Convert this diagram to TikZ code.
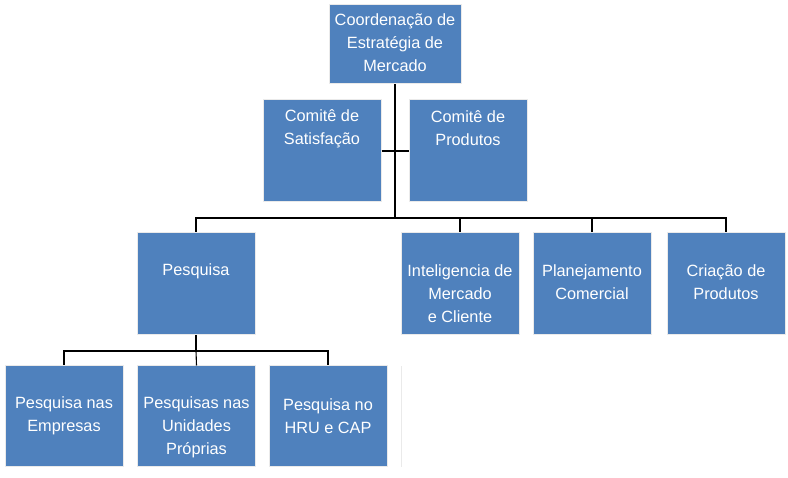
\documentclass[tikz,border=0pt]{standalone}
\usepackage{fontspec}
\setmainfont{Liberation Sans}
\definecolor{boxblue}{HTML}{4F81BD}
\definecolor{boxedge}{HTML}{EAEAEA}
\begin{document}
\begin{tikzpicture}[x=1pt,y=-1pt,
  box/.style={rectangle, fill=boxblue, draw=boxedge, line width=1pt, inner sep=0pt, minimum width=118pt, minimum height=102pt},
  lbl/.style={text=white, align=center, font=\fontsize{16.3}{23}\selectfont, inner sep=0pt},
  conn/.style={draw=black, line width=1.1pt}]
\useasboundingbox (0,0) rectangle (788,478);
% boxes
\node[box, minimum width=132pt, minimum height=79pt] (top) at (395,44.5) {};
\node[box] (sat) at (322,151) {};
\node[box] (prod) at (468,151) {};
\node[box] (pesq) at (196,284) {};
\node[box] (intel) at (460,284) {};
\node[box] (plan) at (592,284) {};
\node[box] (cria) at (726,284) {};
\node[box, minimum height=101pt] (b1) at (64,416.5) {};
\node[box, minimum height=101pt] (b2) at (196.5,416.5) {};
\node[box, minimum height=101pt] (b3) at (328,416.5) {};
% labels
\node[lbl] (ltop) at (395,43) {Coordenação de\\Estratégia de\\Mercado};
\node[lbl] (lsat) at (322,128.5) {Comitê de\\Satisfação};
\node[lbl] (lprod) at (468,128.5) {Comitê de\\Produtos};
\node[lbl] (lpesq) at (196,271) {Pesquisa};
\node[lbl] (lintel) at (460,294) {Inteligencia de\\Mercado\\e Cliente};
\node[lbl] (lplan) at (592,282.5) {Planejamento\\Comercial};
\node[lbl] (lcria) at (726,282.5) {Criação de\\Produtos};
\node[lbl] (lb1) at (64,416) {Pesquisa nas\\Empresas};
\node[lbl] (lb2) at (196.5,427) {Pesquisas nas\\Unidades\\Próprias};
\node[lbl] (lb3) at (328,416) {Pesquisa no\\HRU e CAP};
% connectors
\coordinate (j1) at (395,218);
\coordinate (j2) at (196,351);
\draw[conn] (top.south) -- (j1);
\draw[conn] (sat.east) -- (prod.west);
\draw[conn] (j1) -| (pesq.north);
\draw[conn] (j1) -| (intel.north);
\draw[conn] (j1) -| (plan.north);
\draw[conn] (j1) -| (cria.north);
\draw[conn] (pesq.south) -- (j2);
\draw[conn] (j2) -| (b1.north);
\draw[conn] (j2) -- (b2.north);
\draw[conn] (j2) -| (b3.north);
% faint artifact line
\coordinate (fa) at (401,366);
\coordinate (fb) at (401,467);
\draw[boxedge, line width=1pt] (fa) -- (fb);
\end{tikzpicture}
\end{document}
